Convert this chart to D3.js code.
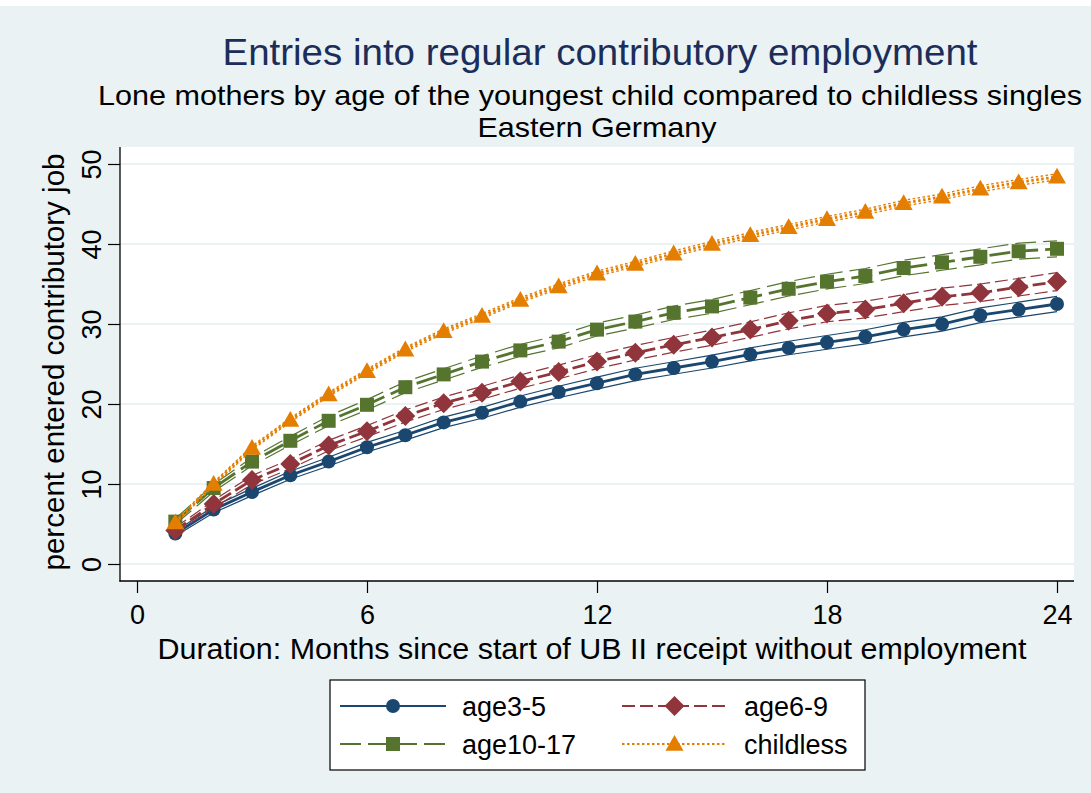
<!DOCTYPE html>
<html>
<head>
<meta charset="utf-8">
<script src="https://cdn.jsdelivr.net/npm/d3@7"></script>
<style>
  body { margin: 0; background: #ffffff; }
  svg { display: block; }
  text { font-family: "Liberation Sans", Arial, Helvetica, sans-serif; }
</style>
</head>
<body>
<svg id="chart" width="1091" height="793"></svg>
<script>
// Months since start of UB II receipt
const months = [1, 2, 3, 4, 5, 6, 7, 8, 9, 10, 11, 12, 13, 14, 15, 16, 17, 18, 19, 20, 21, 22, 23, 24];

// Cumulative share (%) entering contributory employment, with CI half-widths
const age3_5    = [3.8, 6.8, 9.0, 11.1, 12.8, 14.6, 16.1, 17.7, 18.9, 20.3, 21.5, 22.6, 23.7, 24.5, 25.3, 26.2, 27.0, 27.7, 28.4, 29.3, 30.0, 31.1, 31.8, 32.5];
const age3_5_ci = [0.3, 0.4, 0.45, 0.5, 0.55, 0.6, 0.62, 0.65, 0.68, 0.7, 0.72, 0.75, 0.77, 0.78, 0.8, 0.82, 0.84, 0.86, 0.88, 0.9, 0.9, 0.92, 0.93, 0.95];

const age6_9    = [4.2, 7.5, 10.5, 12.5, 14.8, 16.6, 18.5, 20.1, 21.4, 22.8, 24.0, 25.3, 26.4, 27.4, 28.3, 29.3, 30.4, 31.3, 31.8, 32.6, 33.4, 33.9, 34.6, 35.3];
const age6_9_ci = [0.35, 0.45, 0.55, 0.6, 0.65, 0.7, 0.75, 0.78, 0.8, 0.83, 0.86, 0.88, 0.9, 0.92, 0.95, 0.97, 1.0, 1.02, 1.04, 1.06, 1.08, 1.1, 1.1, 1.12];

const age10_17    = [5.3, 9.5, 12.8, 15.4, 17.9, 19.9, 22.1, 23.7, 25.3, 26.7, 27.8, 29.3, 30.3, 31.4, 32.2, 33.3, 34.4, 35.3, 36.0, 37.0, 37.7, 38.4, 39.1, 39.4];
const age10_17_ci = [0.35, 0.45, 0.5, 0.55, 0.6, 0.65, 0.68, 0.7, 0.72, 0.75, 0.78, 0.8, 0.82, 0.84, 0.86, 0.88, 0.9, 0.92, 0.94, 0.96, 0.98, 1.0, 1.0, 1.0];

const childless    = [5.2, 10.0, 14.5, 18.0, 21.2, 24.1, 26.8, 29.1, 31.0, 33.0, 34.7, 36.3, 37.5, 38.8, 40.0, 41.1, 42.1, 43.1, 44.0, 45.1, 45.9, 46.9, 47.7, 48.4];
const childless_ci = [0.2, 0.22, 0.24, 0.25, 0.26, 0.27, 0.28, 0.29, 0.3, 0.3, 0.31, 0.32, 0.32, 0.33, 0.33, 0.34, 0.34, 0.35, 0.35, 0.36, 0.36, 0.37, 0.37, 0.38];

const seriesNames = ["age3-5", "age6-9", "age10-17", "childless"];
const xTicks = [0, 6, 12, 18, 24];
const yTicks = [0, 10, 20, 30, 40, 50];

const series = [
  { name: seriesNames[0], values: age3_5,    ci: age3_5_ci,    color: "#1a476f", dash: null,      width: 2.8, bandWidth: 1.2, marker: "circle" },
  { name: seriesNames[1], values: age6_9,    ci: age6_9_ci,    color: "#90353b", dash: "13,5",    width: 2.8, bandWidth: 1.2, marker: "diamond" },
  { name: seriesNames[2], values: age10_17,  ci: age10_17_ci,  color: "#55752f", dash: "21,7",    width: 2.8, bandWidth: 1.2, marker: "square" },
  { name: seriesNames[3], values: childless, ci: childless_ci, color: "#e37e00", dash: "2.5,2.5", width: 2.8, bandWidth: 1.4, marker: "triangle" }
];

const W = 1091, H = 793;
const plot = { left: 120, top: 147, right: 1074, bottom: 581 };

const svg = d3.select("#chart");

// graph region and plot region
svg.append("rect").attr("x", 0).attr("y", 6).attr("width", W).attr("height", H - 6).attr("fill", "#eaf2f3");
svg.append("rect")
  .attr("x", plot.left).attr("y", plot.top)
  .attr("width", plot.right - plot.left).attr("height", plot.bottom - plot.top)
  .attr("fill", "#ffffff");

const x = d3.scaleLinear().domain([0, 24]).range([137, 1057]);
const y = d3.scaleLinear().domain([0, 50]).range([564, 164]);

// horizontal grid
svg.append("g").selectAll("line").data(yTicks).join("line")
  .attr("x1", plot.left).attr("x2", plot.right)
  .attr("y1", d => y(d)).attr("y2", d => y(d))
  .attr("stroke", "#eaf2f3").attr("stroke-width", 2);

// marker shapes
function markerPath(type) {
  if (type === "circle") return d3.symbol(d3.symbolCircle, Math.PI * 7 * 7)();
  if (type === "square") return d3.symbol(d3.symbolSquare, 14 * 14)();
  if (type === "triangle") return "M0,-9L9,6.8L-9,6.8Z";
  if (type === "diamond") return "M0,-10L10,0L0,10L-10,0Z";
}

const line = d3.line().x(d => x(d.m)).y(d => y(d.v));

const linesG = svg.append("g");
series.forEach(s => {
  const center = months.map((m, i) => ({ m, v: s.values[i] }));
  const lo = months.map((m, i) => ({ m, v: s.values[i] - s.ci[i] }));
  const hi = months.map((m, i) => ({ m, v: s.values[i] + s.ci[i] }));
  const g = linesG.append("g");
  [lo, hi].forEach(band => {
    g.append("path").datum(band)
      .attr("d", line).attr("fill", "none")
      .attr("stroke", s.color).attr("stroke-width", s.bandWidth)
      .attr("stroke-dasharray", s.dash);
  });
  g.append("path").datum(center)
    .attr("d", line).attr("fill", "none")
    .attr("stroke", s.color).attr("stroke-width", s.width)
    .attr("stroke-dasharray", s.dash);
  g.selectAll("path.mk").data(center).join("path")
    .attr("class", "mk")
    .attr("d", markerPath(s.marker))
    .attr("transform", d => `translate(${x(d.m)},${y(d.v)})`)
    .attr("fill", s.color);
});

// axes
const yAxis = svg.append("g")
  .attr("transform", `translate(${plot.left},0)`)
  .call(d3.axisLeft(y).tickValues(yTicks).tickSize(12).tickSizeOuter(0));
yAxis.select(".domain").remove();
yAxis.selectAll(".tick line").attr("stroke", "#000").attr("stroke-width", 1.2);
yAxis.selectAll(".tick text")
  .attr("transform", "rotate(-90)")
  .attr("x", 0).attr("y", -19).attr("dy", 0)
  .attr("text-anchor", "middle")
  .attr("font-size", 27).attr("fill", "#000");

const xAxis = svg.append("g")
  .attr("transform", `translate(0,${plot.bottom})`)
  .call(d3.axisBottom(x).tickValues(xTicks).tickSize(12).tickSizeOuter(0));
xAxis.select(".domain").remove();
xAxis.selectAll(".tick line").attr("stroke", "#000").attr("stroke-width", 1.2);
xAxis.selectAll(".tick text")
  .attr("y", 43).attr("dy", 0)
  .attr("font-size", 27).attr("fill", "#000");

svg.append("line").attr("x1", plot.left).attr("x2", plot.left)
  .attr("y1", plot.top).attr("y2", plot.bottom + 0.6)
  .attr("stroke", "#000").attr("stroke-width", 1.3);
svg.append("line").attr("x1", plot.left - 0.6).attr("x2", plot.right)
  .attr("y1", plot.bottom).attr("y2", plot.bottom)
  .attr("stroke", "#000").attr("stroke-width", 1.3);

// titles
function addText(txt, px, py, size, color, len, rotate) {
  const t = svg.append("text")
    .attr("text-anchor", "middle")
    .attr("font-size", size).attr("fill", color)
    .text(txt);
  if (rotate) t.attr("transform", `translate(${px},${py}) rotate(-90)`);
  else t.attr("x", px).attr("y", py);
  if (len) t.attr("textLength", len).attr("lengthAdjust", "spacingAndGlyphs");
  return t;
}
addText("Entries into regular contributory employment", 600, 65, 37, "#1c2d5a", 755);
addText("Lone mothers by age of the youngest child compared to childless singles", 590, 105, 28, "#000", 984);
addText("Eastern Germany", 597, 137, 28, "#000", 239);
addText("Duration: Months since start of UB II receipt without employment", 592, 659, 30, "#000", 869);
addText("percent entered contributory job", 64, 362, 30, "#000", 417, true);

// legend
const legend = svg.append("g");
legend.append("rect").attr("x", 330).attr("y", 680).attr("width", 535).attr("height", 90)
  .attr("fill", "#ffffff").attr("stroke", "#000").attr("stroke-width", 1.2);
const legendPos = [
  { x1: 340, x2: 446, tx: 462, y: 706 },
  { x1: 622, x2: 727, tx: 744, y: 706 },
  { x1: 340, x2: 446, tx: 462, y: 744 },
  { x1: 622, x2: 727, tx: 744, y: 744 }
];
series.forEach((s, i) => {
  const p = legendPos[i];
  legend.append("line").attr("x1", p.x1).attr("x2", p.x2).attr("y1", p.y).attr("y2", p.y)
    .attr("stroke", s.color).attr("stroke-width", 2.2).attr("stroke-dasharray", s.dash);
  legend.append("path").attr("d", markerPath(s.marker))
    .attr("transform", `translate(${(p.x1 + p.x2) / 2},${p.y})`).attr("fill", s.color);
  legend.append("text").attr("x", p.tx).attr("y", p.y + 10)
    .attr("font-size", 27).attr("fill", "#000").text(s.name);
});
</script>
</body>
</html>
